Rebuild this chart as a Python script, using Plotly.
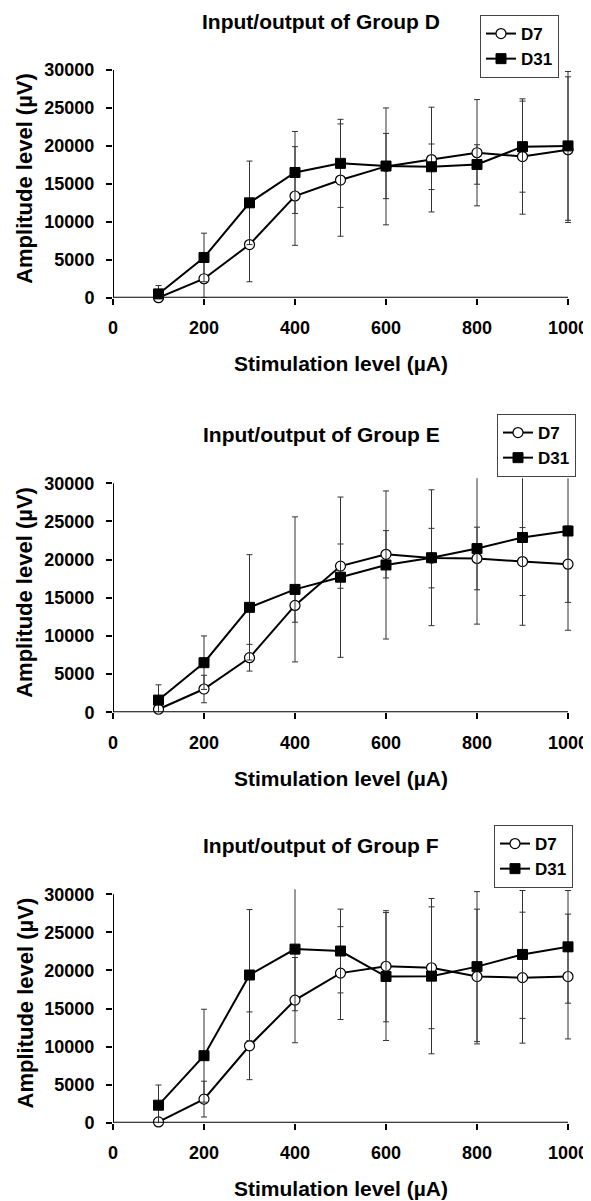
import plotly.graph_objects as go

# ---- data ----
stim = [100, 200, 300, 400, 500, 600, 700, 800, 900, 1000]

d7_D = [0, 2500, 7000, 13400, 15500, 17300, 18200, 19100, 18600, 19500]
d7_D_err = [300, 2500, 4900, 6500, 7400, 7700, 6900, 7000, 7600, 9600]
d31_D = [500, 5300, 12500, 16500, 17700, 17350, 17250, 17550, 19900, 20000]
d31_D_err = [1100, 3200, 5500, 5400, 5800, 4300, 3000, 2600, 6000, 9800]

d7_E = [400, 3050, 7150, 14000, 19150, 20700, 20200, 20150, 19750, 19400]
d7_E_err = [300, 1800, 1750, 2200, 2900, 3100, 3900, 4100, 4450, 5000]
d31_E = [1600, 6500, 13750, 16100, 17700, 19300, 20250, 21450, 22900, 23750]
d31_E_err = [2000, 3500, 6900, 9500, 10500, 9700, 8900, 9900, 11500, 13000]

d7_F = [100, 3100, 10100, 16100, 19650, 20550, 20350, 19200, 19050, 19200]
d7_F_err = [200, 2350, 4450, 5600, 6100, 7300, 8000, 8850, 8600, 8200]
d31_F = [2300, 8800, 19400, 22800, 22550, 19200, 19250, 20500, 22100, 23100]
d31_F_err = [2650, 6100, 8600, 8100, 5500, 8400, 10200, 9850, 8400, 7400]

titles = ["Input/output of Group D", "Input/output of Group E", "Input/output of Group F"]
x_title = "Stimulation level (µA)"
y_title = "Amplitude level (µV)"
x_ticks = [0, 200, 400, 600, 800, 1000]
y_ticks = [0, 5000, 10000, 15000, 20000, 25000, 30000]

# the page body has an 8px margin: lay the figure out in page pixels minus it
OFF = 8
W, H = 591 - OFF, 1201 - OFF
FONT = "Liberation Sans, Arial, sans-serif"

def px_x(px):
    return (px - OFF) / W

def px_y(px):
    return 1 - (px - OFF) / H

# panel geometry (page pixels): zero line and 30000 line, legend right/top
panels = [
    dict(y0=297.7, y30=70.0, legend_rt=(559, 15), title_y=21),
    dict(y0=712.3, y30=483.3, legend_rt=(576, 414), title_y=435),
    dict(y0=1122.7, y30=894.3, legend_rt=(573, 825), title_y=845),
]
series = [
    (d7_D, d7_D_err, d31_D, d31_D_err),
    (d7_E, d7_E_err, d31_E, d31_E_err),
    (d7_F, d7_F_err, d31_F, d31_F_err),
]

YMAX = 30650
XMAX = 1012
x_left, x_1000 = 113.0, 568.0
x_right = x_left + (x_1000 - x_left) * XMAX / 1000

fig = go.Figure()
layout = dict(
    template="none",
    width=W, height=H,
    margin=dict(l=0, r=0, t=0, b=0, autoexpand=False),
    paper_bgcolor="white", plot_bgcolor="white",
    font=dict(family=FONT, color="black"),
    showlegend=True,
)
annotations = []
shapes = []

for i, (p, s) in enumerate(zip(panels, series)):
    k = "" if i == 0 else str(i + 1)
    legend_name = "legend" if i == 0 else f"legend{i + 1}"
    ytop = p["y0"] - (p["y0"] - p["y30"]) * YMAX / 30000
    d7, d7e, d31, d31e = s
    fig.add_trace(go.Scatter(
        x=stim, y=d7, name="D7", mode="lines+markers",
        xaxis="x" + k, yaxis="y" + k, legend=legend_name,
        line=dict(color="black", width=2),
        marker=dict(symbol="circle", size=10, color="white",
                    line=dict(color="black", width=1.2)),
        error_y=dict(type="data", array=d7e, visible=True,
                     color="#333333", thickness=1, width=3),
        cliponaxis=False,
    ))
    fig.add_trace(go.Scatter(
        x=stim, y=d31, name="D31", mode="lines+markers",
        xaxis="x" + k, yaxis="y" + k, legend=legend_name,
        line=dict(color="black", width=2),
        marker=dict(symbol="square", size=10, color="black",
                    line=dict(color="black", width=1)),
        error_y=dict(type="data", array=d31e, visible=True,
                     color="#333333", thickness=1, width=3),
        cliponaxis=False,
    ))
    layout["xaxis" + k] = dict(
        domain=[px_x(x_left), px_x(x_right)], range=[0, XMAX], anchor="y" + k,
        tickvals=x_ticks, tickformat="d", ticks="outside", ticklen=6, tickwidth=1.5,
        tickcolor="black", showline=False, showgrid=False, zeroline=False,
        automargin=False,
        tickfont=dict(family=FONT, size=18, color="black", weight="bold"),
        ticklabelstandoff=8,
    )
    layout["yaxis" + k] = dict(
        domain=[px_y(p["y0"]), px_y(ytop)], range=[0, YMAX], anchor="x" + k,
        tickvals=y_ticks, tickformat="d", ticks="outside", ticklen=6, tickwidth=1.5,
        tickcolor="black", showline=False, showgrid=False, zeroline=False,
        automargin=False,
        tickfont=dict(family=FONT, size=18, color="black", weight="bold"),
        ticklabelstandoff=8,
    )
    # axis lines
    shapes.append(dict(type="line", xref="x" + k, yref="y" + k,
                       x0=0, x1=1000, y0=0, y1=0,
                       line=dict(color="black", width=2)))
    shapes.append(dict(type="line", xref="x" + k, yref="y" + k,
                       x0=0, x1=0, y0=0, y1=30000,
                       line=dict(color="black", width=2)))
    # titles
    annotations.append(dict(text=titles[i], xref="paper", yref="paper",
                            x=px_x(321), y=px_y(p["title_y"]), showarrow=False,
                            xanchor="center", yanchor="middle",
                            font=dict(family=FONT, size=21, color="black", weight="bold")))
    annotations.append(dict(text=x_title, xref="paper", yref="paper",
                            x=px_x((x_left + x_1000) / 2), y=px_y(p["y0"] + 66),
                            showarrow=False, xanchor="center", yanchor="middle",
                            font=dict(family=FONT, size=21, color="black", weight="bold")))
    annotations.append(dict(text=y_title, xref="paper", yref="paper",
                            x=px_x(25), y=px_y((p["y0"] + p["y30"]) / 2 - 5),
                            showarrow=False, textangle=-90,
                            xanchor="center", yanchor="middle",
                            font=dict(family=FONT, size=22, color="black", weight="bold")))
    lx, ly = p["legend_rt"]
    layout[legend_name] = dict(
        x=px_x(lx), y=px_y(ly), xanchor="right", yanchor="top",
        bgcolor="white", bordercolor="#444444", borderwidth=1,
        font=dict(family=FONT, size=17, color="black", weight="bold"),
        itemwidth=30, tracegroupgap=0,
    )

layout["annotations"] = annotations
layout["shapes"] = shapes
fig.update_layout(**layout)
fig.write_html("out.html")
